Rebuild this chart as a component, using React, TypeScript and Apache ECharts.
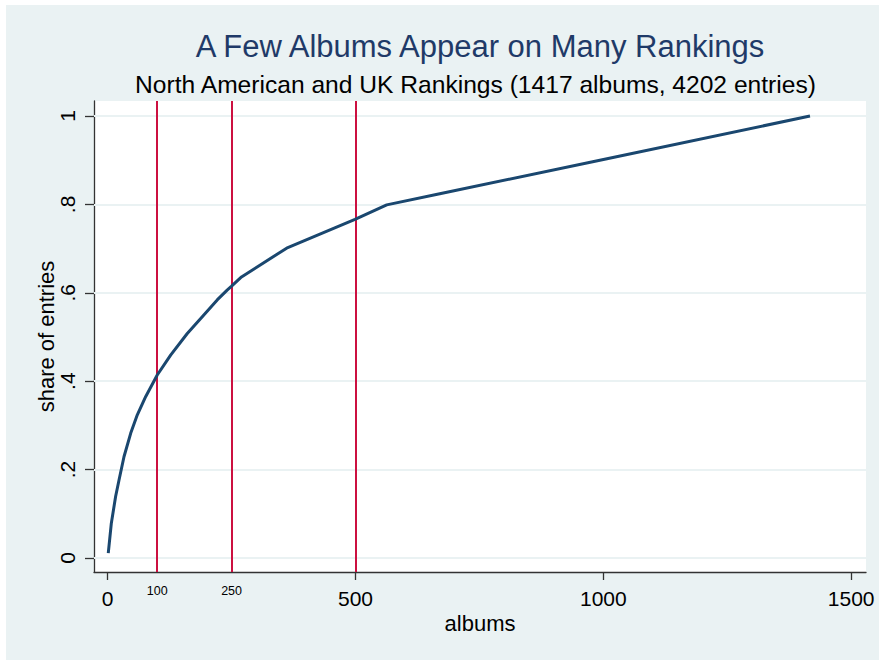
import React, { useEffect, useRef } from "react";
import * as echarts from "echarts";

const titleText = "A Few Albums Appear on Many Rankings";
const subtitleText = "North American and UK Rankings (1417 albums, 4202 entries)";
const xName = "albums";
const yName = "share of entries";

const albums = [1.2, 7.3, 16, 22.8, 32.9, 46.4, 59.8, 76.6, 100, 127, 160.6, 194, 221, 241, 250, 270, 361, 499, 563, 670, 993, 1417];
const share = [0.011, 0.078, 0.139, 0.176, 0.229, 0.282, 0.324, 0.365, 0.414, 0.459, 0.508, 0.55, 0.584, 0.606, 0.615, 0.636, 0.701, 0.766, 0.799, 0.824, 0.9, 1.0];

const xMainTicks = [0, 500, 1000, 1500];
const xMinorTicks = [100, 250];
const refLines = [100, 250, 500];
const yTicks = [0, 0.2, 0.4, 0.6, 0.8, 1];

const FONT = "'Liberation Sans', Arial, Helvetica, sans-serif";
const BG = "#EAF2F3";

export default function App() {
  const ref = useRef<HTMLDivElement>(null);
  useEffect(() => {
    if (!ref.current) return;
    const chart = echarts.init(ref.current, undefined, { renderer: "svg" });
    const xMin = -27.6;
    const xMax = 1530;
    const yMin = -0.0317;
    const yMax = 1.034;
    chart.setOption({
      animation: false,
      backgroundColor: BG,
      textStyle: { fontFamily: FONT },
      grid: {
        left: 94,
        top: 101,
        right: 13,
        bottom: 88,
        show: true,
        backgroundColor: "#ffffff",
        borderWidth: 0,
      },
      graphic: [
        { type: "rect", left: 0, top: 0, shape: { x: 0, y: 0, width: 879, height: 5 }, style: { fill: "#fff" }, silent: true },
        { type: "rect", left: 0, top: 0, shape: { x: 0, y: 0, width: 6, height: 660 }, style: { fill: "#fff" }, silent: true },
        {
          type: "text",
          x: 480,
          y: 46.5,
          silent: true,
          style: {
            text: titleText,
            font: `31px ${FONT}`,
            fill: "#1F3A68",
            align: "center",
            verticalAlign: "middle",
            textAlign: "center",
            textVerticalAlign: "middle",
          },
        },
        {
          type: "text",
          x: 475.5,
          y: 84.7,
          silent: true,
          style: {
            text: subtitleText,
            font: `24.6px ${FONT}`,
            fill: "#000",
            align: "center",
            verticalAlign: "middle",
            textAlign: "center",
            textVerticalAlign: "middle",
          },
        },
      ],
      xAxis: [
        {
          type: "value",
          min: xMin,
          max: xMax,
          position: "bottom",
          axisLine: { show: true, onZero: false, lineStyle: { color: "#333", width: 1.3 } },
          axisTick: { show: true, customValues: xMainTicks, length: 8, lineStyle: { color: "#333", width: 1.3 } },
          axisLabel: {
            customValues: xMainTicks,
            fontSize: 21,
            color: "#000",
            margin: 16,
            fontFamily: FONT,
            formatter: (v: number) => String(Math.round(v)),
          },
          splitLine: { show: false },
          name: xName,
          nameLocation: "middle",
          nameGap: 40,
          nameMoveOverlap: false,
          nameTextStyle: { fontSize: 22, color: "#000", fontFamily: FONT },
        },
        {
          type: "value",
          min: xMin,
          max: xMax,
          position: "bottom",
          axisLine: { show: false, onZero: false },
          axisTick: { show: false },
          axisLabel: {
            customValues: xMinorTicks,
            fontSize: 12.5,
            color: "#000",
            margin: 12,
            fontFamily: FONT,
            formatter: (v: number) => String(Math.round(v)),
          },
          splitLine: { show: false },
        },
      ],
      yAxis: {
        type: "value",
        min: yMin,
        max: yMax,
        axisLine: { show: true, onZero: false, lineStyle: { color: "#333", width: 1.3 } },
        axisTick: { show: true, customValues: yTicks, length: 9, lineStyle: { color: "#333", width: 1.3 } },
        axisLabel: {
          customValues: yTicks,
          rotate: 90,
          fontSize: 21,
          color: "#000",
          margin: 16,
          fontFamily: FONT,
          formatter: (v: number) => {
            const r = Math.round(v * 10) / 10;
            if (r === 0) return "0";
            if (r === 1) return "1";
            return String(r).replace(/^0/, "");
          },
        },
        splitLine: { show: false },
        name: yName,
        nameLocation: "middle",
        nameGap: 37,
        nameMoveOverlap: false,
        nameTextStyle: { fontSize: 22, color: "#000", fontFamily: FONT },
      },
      series: [
        {
          type: "line",
          data: [],
          z: 1,
          silent: true,
          markLine: {
            z: 1,
            silent: true,
            symbol: ["none", "none"],
            label: { show: false },
            lineStyle: { color: BG, width: 2, type: "solid" },
            data: yTicks.map((v) => ({ yAxis: v })),
          },
        },
        {
          type: "line",
          data: [],
          z: 2,
          silent: true,
          markLine: {
            z: 2,
            silent: true,
            symbol: ["none", "none"],
            label: { show: false },
            lineStyle: { color: "#CC1040", width: 2, type: "solid" },
            data: refLines.map((v) => ({ xAxis: v })),
          },
        },
        {
          type: "line",
          z: 10,
          showSymbol: false,
          symbol: "none",
          smooth: false,
          lineStyle: { color: "#1A476F", width: 3 },
          data: albums.map((a, i) => [a, share[i]]),
        },
      ],
    });
    return () => chart.dispose();
  }, []);
  return <div ref={ref} style={{ position: "absolute", left: 0, top: 0, width: 879, height: 660 }} />;
}
